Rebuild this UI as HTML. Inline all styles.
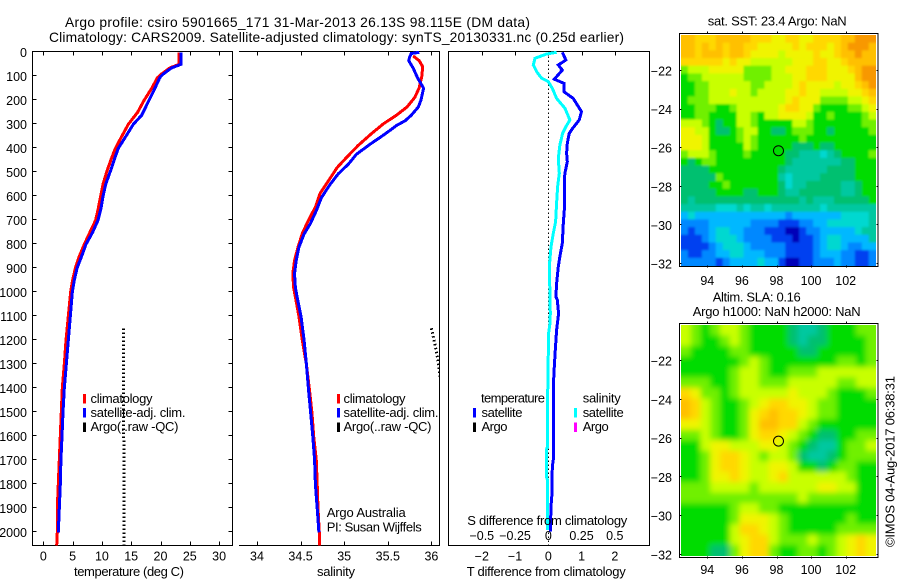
<!DOCTYPE html>
<html>
<head>
<meta charset="utf-8">
<title>Argo profile</title>
<style>
html,body{margin:0;padding:0;background:#fff;width:900px;height:580px;overflow:hidden}
svg{display:block}
text{font-family:"Liberation Sans",sans-serif;font-size:13px;fill:#000}
text.big{font-size:13.8px}
text.tick{font-size:12.5px}
</style>
</head>
<body>
<svg id="figure" width="900" height="580" viewBox="0 0 900 580" xmlns="http://www.w3.org/2000/svg">
<defs>
<clipPath id="clip-p1"><rect x="32" y="51" width="201" height="495"/></clipPath>
<clipPath id="clip-p2"><rect x="239" y="51" width="201" height="495"/></clipPath>
<clipPath id="clip-p3"><rect x="448" y="51" width="202" height="495"/></clipPath>
<clipPath id="clip-m1"><rect x="681" y="35" width="195" height="231"/></clipPath>
<clipPath id="clip-m2"><rect x="681" y="325" width="195" height="231"/></clipPath>
<filter id="soft" x="-10%" y="-10%" width="120%" height="120%"><feGaussianBlur stdDeviation="3"/></filter>
<filter id="soft-small" x="-10%" y="-10%" width="120%" height="120%"><feGaussianBlur stdDeviation="1"/></filter>
</defs>
<rect width="900" height="580" fill="#fff"/>
<text class="big" x="65" y="27" textLength="465" lengthAdjust="spacing">Argo profile: csiro 5901665_171 31-Mar-2013 26.13S 98.115E (DM data)</text>
<text class="big" x="49" y="42" textLength="575" lengthAdjust="spacing">Climatology: CARS2009. Satellite-adjusted climatology: synTS_20130331.nc (0.25d earlier)</text>

<g id="p1"></g>
<g id="p2"></g>
<g id="p3"></g>
<g id="m1"></g>
<g id="m2"></g>

<g>
<rect x="83" y="394" width="3" height="9.5" fill="#f00"/>
<rect x="83" y="408" width="3" height="9.5" fill="#00f"/>
<rect x="83" y="422.5" width="3" height="9.5" fill="#000"/>
<text x="90.5" y="403" textLength="62" lengthAdjust="spacing">climatology</text>
<text x="90.5" y="417" textLength="95" lengthAdjust="spacing">satellite-adj. clim.</text>
<text x="90.5" y="431" textLength="88" lengthAdjust="spacing">Argo(..raw -QC)</text>
</g>
<g>
<rect x="337" y="394" width="3" height="9.5" fill="#f00"/>
<rect x="337" y="408" width="3" height="9.5" fill="#00f"/>
<rect x="337" y="422.5" width="3" height="9.5" fill="#000"/>
<text x="343.5" y="403" textLength="62" lengthAdjust="spacing">climatology</text>
<text x="343.5" y="417" textLength="95" lengthAdjust="spacing">satellite-adj. clim.</text>
<text x="343.5" y="431" textLength="88" lengthAdjust="spacing">Argo(..raw -QC)</text>
<text x="326.7" y="517" textLength="79" lengthAdjust="spacing">Argo Australia</text>
<text x="326.7" y="531.5" textLength="95" lengthAdjust="spacing">PI: Susan Wijffels</text>
</g>
<g>
<text x="481" y="402.5" textLength="64" lengthAdjust="spacing">temperature</text>
<rect x="473" y="408" width="3" height="9.5" fill="#00f"/>
<rect x="473" y="422.5" width="3" height="9.5" fill="#000"/>
<text x="481.5" y="417" textLength="41" lengthAdjust="spacing">satellite</text>
<text x="481.5" y="431" textLength="26" lengthAdjust="spacing">Argo</text>
<text x="582.7" y="402.5" textLength="38" lengthAdjust="spacing">salinity</text>
<rect x="574" y="408" width="3" height="9.5" fill="#0ff"/>
<rect x="574" y="422.5" width="3" height="9.5" fill="#f0f"/>
<text x="582.7" y="417" textLength="41" lengthAdjust="spacing">satellite</text>
<text x="582.7" y="431" textLength="26" lengthAdjust="spacing">Argo</text>
</g>

<text x="74" y="576" textLength="110" lengthAdjust="spacing">temperature (deg C)</text>
<text x="317" y="576" textLength="38" lengthAdjust="spacing">salinity</text>
<text x="467.3" y="525" textLength="160" lengthAdjust="spacing">S difference from climatology</text>
<text x="466.7" y="576" textLength="159" lengthAdjust="spacing">T difference from climatology</text>
<text x="707.7" y="25.5" textLength="139" lengthAdjust="spacing">sat. SST: 23.4 Argo: NaN</text>
<text x="712.7" y="301.7" textLength="88" lengthAdjust="spacing">Altim. SLA: 0.16</text>
<text x="692.7" y="316" textLength="168" lengthAdjust="spacing">Argo h1000: NaN h2000: NaN</text>
<text transform="translate(894.5,547) rotate(-90)" x="0" y="0" textLength="171" lengthAdjust="spacing">©IMOS 04-Aug-2017 06:38:31</text>
</svg>
<script>
// ---- profile data ----
const depthTicks = [0,100,200,300,400,500,600,700,800,900,1000,1100,1200,1300,1400,1500,1600,1700,1800,1900,2000];
const tempTicks = [0,5,10,15,20,25,30];
const salTicks = [34,34.5,35,35.5,36];
const salTickLabels = ['34','34.5','35','35.5','36'];
const tDiffTicks = [-2,-1,0,1,2];
const tDiffLabels = ['−2','−1','0','1','2'];
const sDiffTicks = [-0.5,-0.25,0,0.25,0.5];
const sDiffLabels = ['−0.5','−0.25','0','0.25','0.5'];

const tempClimDepth = [0,50,65,90,105,150,200,250,300,350,400,450,500,550,600,650,700,750,800,850,900,950,1000,1100,1200,1300,1400,1500,1600,1700,1800,1900,2000,2054];
const tempClim = [23.15,23.15,21.6,20.2,19.5,18.5,17.2,16.1,14.5,13.4,12.3,11.5,10.8,10.18,9.78,9.39,8.93,7.96,7.0,6.14,5.46,5.0,4.66,4.27,3.87,3.58,3.24,3.07,2.9,2.73,2.56,2.39,2.39,2.28];
const tempSatDepth = [0,50,65,90,105,150,200,262,300,350,400,450,500,550,600,650,700,750,800,850,900,950,1000,1100,1200,1300,1400,1500,1600,1700,1800,1900,2000];
const tempSat = [23.5,23.5,21.9,20.5,19.9,19.05,18.03,16.8,15.36,14.1,12.8,12.06,11.38,10.64,10.18,9.84,9.33,8.42,7.28,6.54,5.75,5.29,4.95,4.6,4.27,3.92,3.58,3.36,3.19,3.01,2.9,2.73,2.56];
const argoDepth = [1150,2054];
const argoTemp = [13.65,13.8];

const salClimDepth = [15,35,60,100,148,188,228,262,298,340,388,437,480,535,590,645,700,755,812,868,923,980,1020,1100,1200,1300,1400,1500,1600,1700,1800,1900,2000,2054];
const salClim = [35.79,35.86,35.90,35.89,35.86,35.81,35.72,35.60,35.45,35.31,35.16,35.03,34.92,34.82,34.72,34.67,34.59,34.52,34.47,34.43,34.41,34.42,34.44,34.48,34.52,34.566,34.60,34.63,34.65,34.68,34.69,34.70,34.715,34.715];
const salSatDepth = [0,5,20,35,65,105,150,200,228,262,285,305,340,382,425,465,507,550,605,660,715,757,812,868,923,980,1020,1100,1200,1300,1400,1500,1600,1700,1800,1900,2000];
const salSat = [35.86,35.77,35.75,35.74,35.79,35.84,35.91,35.88,35.85,35.77,35.70,35.60,35.47,35.30,35.14,35.05,34.93,34.84,34.74,34.68,34.61,34.54,34.48,34.45,34.43,34.44,34.46,34.505,34.54,34.566,34.59,34.615,34.64,34.66,34.67,34.69,34.71];
const argoSalDepth = [1150,1200,1250,1298,1400];
const argoSal = [36.0,36.03,36.06,36.08,36.12];

const tDiffDepth = [0,32,53,74,112,129,164,192,247,282,317,338,379,421,456,504,532,657,713,796,851,893,963,1018,1032,1088,1157,1240,1310,1393,1518,1698,1726,1837,1893,1997];
const tDiff = [0.42,0.53,0.30,0.42,0.18,0.47,0.47,0.75,1.0,0.93,0.73,0.63,0.57,0.55,0.57,0.50,0.48,0.48,0.45,0.42,0.35,0.30,0.25,0.23,0.27,0.31,0.25,0.21,0.18,0.15,0.15,0.15,0.12,0.11,0.08,0.06];
const sDiffDepth = [0,7,25,53,81,108,122,150,192,233,282,310,338,386,442,504,560,629,706,754,810,893,1018,1088,1129,1170,1448,1643,1657,1768,1782,1990];
const sDiff = [0.0625,-0.0125,-0.10,-0.1125,-0.0875,-0.05,0,0.03,0.0625,0.125,0.1625,0.1325,0.1075,0.0875,0.075,0.0825,0.07,0.0625,0.055,0.0375,0.02,0.0075,0.0125,0.015,0.0125,0.0025,-0.005,-0.005,-0.015,-0.015,-0.005,-0.005];
const zeroLineDepth = [0,2054];
const zeroLineDiff = [0,0];

// ---- map data ----
const lonTicks = [94,96,98,100,102];
const latTicks = [-22,-24,-26,-28,-30,-32];
const latTickLabels = ['−22','−24','−26','−28','−30','−32'];
const profileLon = 98.115;
const profileLat = -26.13;
const levelColors = ['#0000b8','#0040f0','#0088ff','#00b8ff','#00d8d0','#00c8a0','#00c070','#00dc00','#70f000','#c8ff00','#f0f400','#ffd800','#ffc000','#f89800'];

const sstGrid = [
[12,12,11,11,11,12,12,12,12,12,11,11,11,10,10,11,11,10,10,11,11,11,11,12,12,13,13,13],
[12,12,11,12,11,12,11,12,12,11,11,10,10,10,10,10,11,10,11,11,11,10,11,12,13,13,13,12],
[12,12,11,12,12,12,11,12,12,11,10,10,10,10,9,10,10,10,10,11,10,10,11,12,12,13,12,12],
[11,11,11,11,11,11,10,11,10,10,9,9,9,9,9,9,10,10,10,11,11,10,10,11,12,12,12,12],
[8,9,9,9,10,10,10,10,10,8,8,8,8,9,9,10,10,10,11,11,11,10,10,10,11,12,13,13],
[7,8,8,9,9,9,9,9,9,8,8,8,8,9,9,9,10,10,11,11,11,10,10,10,10,12,13,13],
[7,7,8,8,9,9,9,9,9,9,8,8,9,9,9,9,10,11,10,10,10,10,9,10,10,11,12,13],
[7,7,8,8,9,9,9,10,9,9,8,9,9,9,9,10,10,11,10,10,9,9,9,9,10,10,11,12],
[7,8,8,8,9,9,9,9,9,9,9,9,9,9,9,10,11,10,10,10,8,8,8,8,9,9,10,11],
[7,7,8,8,8,7,7,8,9,9,9,9,9,9,10,11,11,10,10,8,7,7,7,7,8,8,9,10],
[7,7,8,8,7,7,7,7,9,9,8,7,9,9,10,10,10,10,9,7,7,8,7,7,7,7,8,9],
[9,9,9,8,7,6,7,7,9,9,8,7,7,7,7,7,9,9,8,7,7,7,7,7,7,7,8,8],
[10,10,9,9,7,6,6,7,8,9,9,7,7,6,6,7,8,8,8,7,7,6,7,7,7,7,7,8],
[10,10,10,9,7,7,7,7,8,9,8,7,7,7,7,7,7,8,7,7,7,7,7,7,7,7,7,7],
[10,10,10,9,7,7,7,7,7,9,8,7,7,7,7,7,6,6,6,7,6,6,7,7,7,7,7,7],
[8,9,9,9,8,7,7,7,7,8,7,7,7,7,7,6,6,5,5,5,4,5,6,7,7,7,7,8],
[7,6,7,8,8,7,7,7,7,7,7,7,7,7,7,6,5,5,5,5,5,5,5,6,6,7,7,7],
[6,6,6,6,7,7,7,7,7,7,7,7,7,7,6,5,5,5,5,5,5,6,6,6,6,7,7,7],
[6,6,6,6,6,8,7,7,7,7,7,7,7,7,5,4,5,5,5,5,6,6,6,6,6,7,7,7],
[6,6,6,6,7,7,8,7,7,7,7,7,7,7,6,4,5,5,6,6,6,6,6,5,5,6,7,7],
[6,6,6,6,6,7,7,7,7,6,6,7,7,7,6,5,5,6,6,6,6,6,6,5,5,6,7,7],
[6,5,6,6,6,6,6,6,6,6,6,6,6,6,6,6,6,5,6,5,5,5,6,6,6,6,6,7],
[5,5,5,5,5,4,4,4,5,4,5,5,4,5,5,5,5,5,5,5,4,5,5,5,5,5,5,5],
[3,4,3,3,3,3,3,3,3,3,3,3,3,3,3,2,3,3,3,3,3,3,3,4,4,4,4,5],
[2,2,2,2,3,3,3,3,3,3,2,2,2,2,1,1,1,2,2,3,3,4,4,4,4,4,4,5],
[2,1,2,2,3,4,4,3,3,2,2,2,1,1,1,0,0,1,2,2,3,3,3,3,3,4,5,5],
[1,1,1,2,3,4,4,4,3,2,2,2,2,1,1,1,0,1,1,2,3,4,4,3,3,3,3,5],
[1,1,1,1,2,3,4,4,4,3,2,2,2,2,2,1,1,1,1,2,3,4,4,3,2,2,3,3],
[2,1,1,2,2,3,3,4,4,3,3,3,2,2,2,1,1,1,1,2,3,3,3,2,2,1,1,2],
[2,2,2,2,2,1,2,3,3,3,3,4,3,3,1,0,0,1,1,2,2,2,3,2,2,1,1,2]
];
const slaGrid = [
[9,8,7,8,9,9,8,7,7,7,7,6,5,5,6,7,7,7,8,8],
[9,8,7,7,8,9,8,7,7,7,7,6,5,6,6,7,7,7,7,8],
[8,7,7,7,7,8,8,7,7,7,7,7,6,6,7,7,7,7,7,8],
[7,7,7,7,7,7,8,9,8,7,7,7,7,7,7,7,8,8,7,8],
[7,7,7,7,7,8,9,9,8,7,7,8,8,8,9,9,9,9,9,9],
[8,8,8,7,7,8,9,9,8,8,8,9,9,9,9,9,8,8,9,9],
[11,10,8,8,7,8,9,9,9,9,9,10,9,9,9,8,7,7,7,8],
[12,11,9,8,7,7,8,9,10,11,11,10,10,9,8,8,7,7,7,7],
[12,11,9,8,7,7,8,10,11,12,11,11,10,9,8,8,7,7,7,7],
[10,10,9,8,7,7,8,10,12,12,11,11,9,8,7,7,7,7,7,7],
[8,8,9,8,7,7,8,10,11,11,10,9,8,7,6,6,7,7,8,8],
[7,7,9,10,10,9,9,9,10,10,9,8,7,6,5,5,7,8,8,9],
[7,7,8,10,11,11,10,9,8,9,9,8,6,5,5,6,7,8,8,8],
[7,7,8,10,11,11,10,9,9,10,10,9,7,7,6,7,8,8,7,7],
[7,7,8,10,10,11,10,9,9,10,11,9,9,9,9,9,9,8,7,7],
[8,8,8,9,9,9,9,8,9,9,9,9,9,9,10,10,9,9,7,7],
[8,8,8,8,8,8,8,8,8,8,8,8,9,8,8,8,8,8,7,7],
[7,7,7,7,7,8,9,9,8,8,7,7,7,7,7,7,7,7,7,7],
[7,7,7,7,7,8,10,10,10,9,8,7,7,7,7,7,7,8,7,7],
[7,7,7,7,7,9,11,11,10,9,8,7,7,7,7,7,8,8,8,8],
[7,7,7,7,7,9,10,11,11,9,8,8,8,9,8,8,9,10,11,10],
[7,7,7,6,6,8,10,11,11,8,7,7,8,8,7,8,9,10,11,10]
];

// ---- axis functions ----
const depthY = d => 52.3 + d * 0.24;
const tempX = t => 43.3 + t * 5.86;
const salX = s => 257 + (s - 34) * 87.2;
const tDiffX = t => 548.3 + t * 33.25;
const sDiffX = s => 548.3 + s * 133;
const lonX = lon => 707.3 + (lon - 94) * 17.3;
const lat1Y = lat => 71 + (-22 - lat) * 19.3;
const lat2Y = lat => 361 + (-22 - lat) * 19.4;

const SVGNS = 'http://www.w3.org/2000/svg';
function mk(tag, attrs, parent) {
  const el = document.createElementNS(SVGNS, tag);
  for (const k in attrs) el.setAttribute(k, attrs[k]);
  parent.appendChild(el);
  return el;
}
function seg(parent, x1, y1, x2, y2) {
  return mk('line', {x1, y1, x2, y2, stroke: '#000', 'stroke-width': 1, 'shape-rendering': 'crispEdges'}, parent);
}
function label(parent, x, y, str, anchor) {
  const el = mk('text', {x, y, 'text-anchor': anchor, class: 'tick'}, parent);
  el.textContent = str;
  return el;
}
function profile(parent, clipId, xs, depths, xFn, color, width, dash) {
  const pts = depths.map((d, i) => xFn(xs[i]).toFixed(1) + ',' + depthY(d).toFixed(1)).join(' ');
  const attrs = {points: pts, fill: 'none', stroke: color, 'stroke-width': width, 'clip-path': 'url(#' + clipId + ')', 'shape-rendering': 'crispEdges'};
  if (dash) attrs['stroke-dasharray'] = dash;
  return mk('polyline', attrs, parent);
}

const TOP = 51.5, BOT = 545.5;

// ---- panel 1: temperature ----
const p1 = document.getElementById('p1');
{
  const box = mk('rect', {x: 32.5, y: TOP, width: 200, height: BOT - TOP, fill: 'none', stroke: '#000', 'stroke-width': 1, 'shape-rendering': 'crispEdges'}, p1);
  
  
  depthTicks.forEach((d, i) => {
    const y = Math.round(depthY(d)) - 0.5;
    const l = seg(p1, 32.5, y, 36.5, y);
    
    
    const r = seg(p1, 228.5, y, 232.5, y);
    
    
    const t = label(p1, 27, depthY(d) + 4.5, String(depthTicks[i]), 'end');
    
    
  });
  tempTicks.forEach(v => {
    const x = Math.round(tempX(v)) + 0.5;
    const a = seg(p1, x, TOP, x, TOP + 4);
    
    
    const b = seg(p1, x, BOT - 4, x, BOT);
    
    
    const t = label(p1, tempX(v), 560.5, String(v), 'middle');
    
    
  });
  const argo = profile(p1, 'clip-p1', argoTemp, argoDepth, tempX, '#000', 3, '1.5 2.5');
  
  
  const red = profile(p1, 'clip-p1', tempClim, tempClimDepth, tempX, '#f00', 3);
  
  
  const blue = profile(p1, 'clip-p1', tempSat, tempSatDepth, tempX, '#00f', 3);
  
  
}

// ---- panel 2: salinity ----
const p2 = document.getElementById('p2');
{
  const t1 = seg(p2, 239, TOP, 440, TOP);
  
  
  const t2 = seg(p2, 239, BOT, 440, BOT);
  
  
  const t3 = seg(p2, 439.5, TOP, 439.5, BOT);
  
  
  salTicks.forEach((v, i) => {
    const x = Math.round(salX(v)) + 0.5;
    const a = seg(p2, x, TOP, x, TOP + 4);
    
    
    const b = seg(p2, x, BOT - 4, x, BOT);
    
    
    const t = label(p2, salX(v), 560.5, salTickLabels[i], 'middle');
    
    
  });
  const argo = profile(p2, 'clip-p2', argoSal, argoSalDepth, salX, '#000', 3, '1.5 2.5');
  
  
  const red = profile(p2, 'clip-p2', salClim, salClimDepth, salX, '#f00', 3);
  
  
  const blue = profile(p2, 'clip-p2', salSat, salSatDepth, salX, '#00f', 3);
  
  
}

// ---- panel 3: differences ----
const p3 = document.getElementById('p3');
{
  const box = mk('rect', {x: 448.5, y: TOP, width: 201, height: BOT - TOP, fill: 'none', stroke: '#000', 'stroke-width': 1, 'shape-rendering': 'crispEdges'}, p3);
  
  
  tDiffTicks.forEach((v, i) => {
    const x = Math.round(tDiffX(v)) + 0.5;
    const a = seg(p3, x, TOP, x, TOP + 4);
    
    
    const t = label(p3, tDiffX(v), 560.5, tDiffLabels[i], 'middle');
    
    
  });
  sDiffTicks.forEach((v, i) => {
    const t = label(p3, sDiffX(v), 540, sDiffLabels[i], 'middle');
    
    
  });
  const zero = profile(p3, 'clip-p3', zeroLineDiff, zeroLineDepth, tDiffX, '#000', 1, '1.5 2.5');
  
  
  const blue = profile(p3, 'clip-p3', tDiff, tDiffDepth, tDiffX, '#00f', 3);
  
  
  const cyan = profile(p3, 'clip-p3', sDiff, sDiffDepth, sDiffX, '#0ff', 3);
  
  
}

// ---- maps ----
function drawMapAxes(parent, frameTop, frameBottom, latY, xLabelY) {
  const frame = mk('rect', {x: 679.5, y: frameTop, width: 198.5, height: frameBottom - frameTop, fill: 'none', stroke: '#000', 'stroke-width': 1, 'shape-rendering': 'crispEdges'}, parent);
  
  
  lonTicks.forEach(v => {
    const x = Math.round(lonX(v)) + 0.5;
    const a = seg(parent, x, frameTop - 2, x, frameTop);
    
    
    const b = seg(parent, x, frameBottom - 1, x, frameBottom + 1);
    
    
    const t = label(parent, lonX(v), xLabelY, String(v), 'middle');
    
    
  });
  latTicks.forEach((v, i) => {
    const y = Math.round(latY(v)) - 0.5;
    const a = seg(parent, 679.5, y, 681.5, y);
    
    
    const b = seg(parent, 876.5, y, 878.5, y);
    
    
    const t = label(parent, 672, latY(v) + 4.5, latTickLabels[i], 'end');
    
    
  });
  const marker = mk('ellipse', {cx: lonX(profileLon), cy: latY(profileLat), rx: 5, ry: 5, fill: 'none', stroke: '#000', 'stroke-width': 1}, parent);
  
  
}

const MAP_LEFT = 681, MAP_W = 194.7, MAP_H = 230.5;
function drawCells(group, grid, top, pad) {
  const rows = grid.length, cols = grid[0].length;
  const cw = MAP_W / cols, ch = MAP_H / rows;
  grid.forEach((row, r) => {
    row.forEach((v, c) => {
      let x = MAP_LEFT + c * cw, y = top + r * ch, w = cw + 0.4, h = ch + 0.4;
      if (c === 0) { x -= pad; w += pad; }
      if (c === cols - 1) { w += pad; }
      if (r === 0) { y -= pad; h += pad; }
      if (r === rows - 1) { h += pad; }
      const cell = mk('rect', {x: x.toFixed(2), y: y.toFixed(2), width: w.toFixed(2), height: h.toFixed(2), fill: levelColors[v]}, group);
      
      
    });
  });
}

const m1 = document.getElementById('m1');
{
  const clip = mk('g', {'clip-path': 'url(#clip-m1)'}, m1);
  
  
  const soft = mk('g', {filter: 'url(#soft-small)'}, clip);
  
  
  drawCells(soft, sstGrid, 35, 6);
  drawMapAxes(m1, 33.5, 266.5, lat1Y, 285);
}

const m2 = document.getElementById('m2');
{
  const clip = mk('g', {'clip-path': 'url(#clip-m2)'}, m2);
  
  
  const soft = mk('g', {filter: 'url(#soft)'}, clip);
  
  
  drawCells(soft, slaGrid, 325, 14);
  drawMapAxes(m2, 323.5, 557.5, lat2Y, 574);
}
</script>
</body>
</html>
